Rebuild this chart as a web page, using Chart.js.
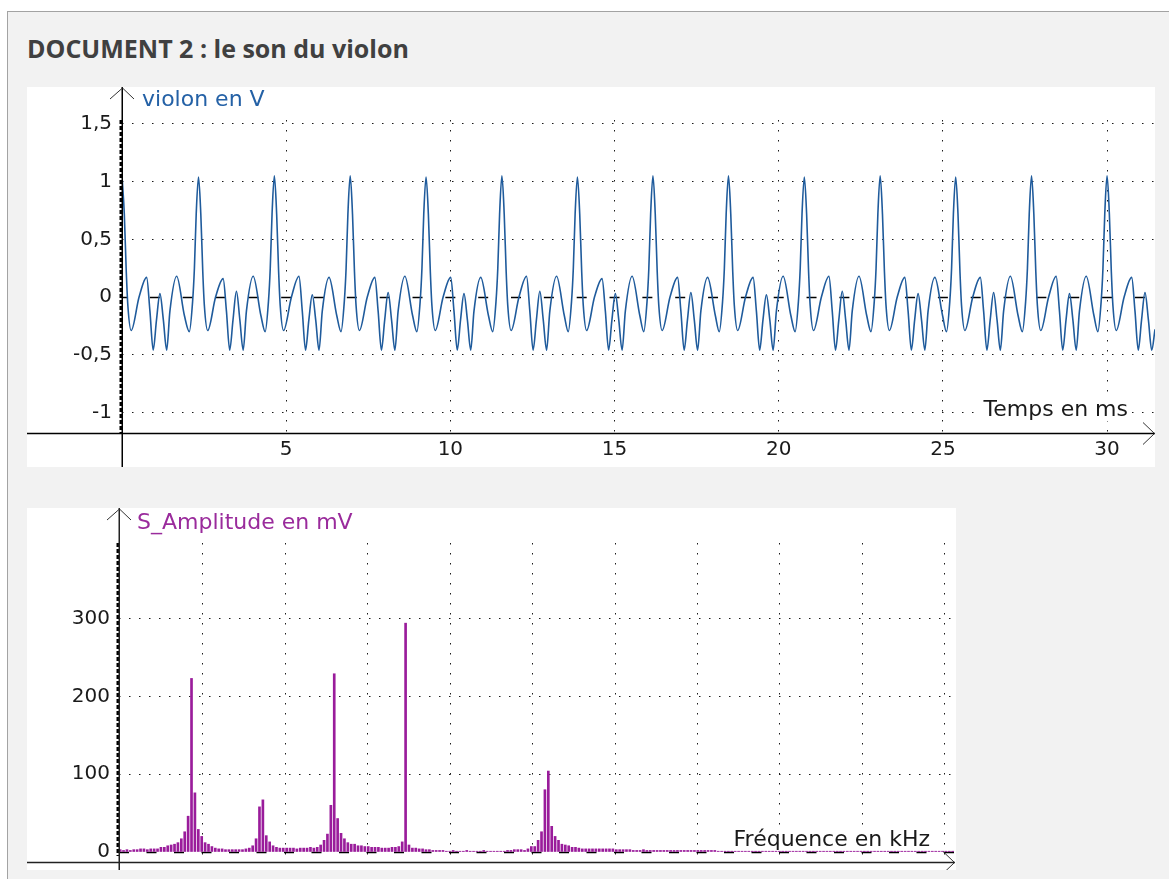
<!DOCTYPE html>
<html>
<head>
<meta charset="utf-8">
<script src="https://cdn.jsdelivr.net/npm/chart.js@4.4.1/dist/chart.umd.min.js"></script>
<style>
html,body{margin:0;padding:0;background:#fff;width:1169px;height:879px;overflow:hidden;}
#frame{position:absolute;left:7px;top:11px;width:1200px;height:900px;border:1px solid #a3a3a3;background:#f2f2f2;}
#title{position:absolute;left:27px;top:33px;font:bold 25px "Open Sans";line-height:30px;color:#404040;white-space:nowrap;}
.panel{position:absolute;background:#fff;}
#p1{left:27px;top:87px;width:1128px;height:380px;}
#p2{left:27px;top:508px;width:929px;height:362px;}
canvas{display:block;}
</style>
</head>
<body>
<div id="frame"></div>
<div id="title">DOCUMENT 2 : le son du violon</div>
<div class="panel" id="p1"><canvas id="c1" width="1128" height="380"></canvas></div>
<div class="panel" id="p2"><canvas id="c2" width="929" height="362"></canvas></div>
<script>
// ---------- Document 2 : violin signal (time domain) ----------
const timeMs = [
  0, 0.07, 0.13, 0.18, 0.28, 0.52, 0.75, 0.85, 0.95, 1.05, 1.155, 1.26, 1.36, 1.46, 1.665, 1.90, 2.05, 2.15, 2.205, 2.26,
  2.33, 2.40, 2.46, 2.51, 2.61, 2.85, 3.08, 3.18, 3.28, 3.38, 3.485, 3.59, 3.69, 3.79, 3.995, 4.23, 4.36, 4.46, 4.515, 4.57,
  4.64, 4.71, 4.77, 4.82, 4.92, 5.16, 5.39, 5.49, 5.59, 5.69, 5.795, 5.90, 6.00, 6.10, 6.305, 6.54, 6.67, 6.77, 6.825, 6.88,
  6.95, 7.02, 7.08, 7.13, 7.23, 7.47, 7.70, 7.80, 7.90, 8.00, 8.105, 8.21, 8.31, 8.41, 8.615, 8.85, 8.98, 9.08, 9.135, 9.19,
  9.26, 9.33, 9.39, 9.44, 9.54, 9.78, 10.01, 10.11, 10.21, 10.31, 10.415, 10.52, 10.62, 10.72, 10.925, 11.16, 11.29, 11.39, 11.445, 11.50,
  11.57, 11.64, 11.70, 11.75, 11.85, 12.09, 12.32, 12.42, 12.52, 12.62, 12.725, 12.83, 12.93, 13.03, 13.235, 13.47, 13.59, 13.69, 13.745, 13.80,
  13.87, 13.94, 14.00, 14.05, 14.15, 14.39, 14.62, 14.72, 14.82, 14.92, 15.025, 15.13, 15.23, 15.33, 15.535, 15.77, 15.89, 15.99, 16.045, 16.10,
  16.17, 16.24, 16.30, 16.35, 16.45, 16.69, 16.92, 17.02, 17.12, 17.22, 17.325, 17.43, 17.53, 17.63, 17.835, 18.07, 18.19, 18.29, 18.345, 18.40,
  18.47, 18.54, 18.60, 18.65, 18.75, 18.99, 19.22, 19.32, 19.42, 19.52, 19.625, 19.73, 19.83, 19.93, 20.135, 20.37, 20.50, 20.60, 20.655, 20.71,
  20.78, 20.85, 20.91, 20.96, 21.06, 21.30, 21.53, 21.63, 21.73, 21.83, 21.935, 22.04, 22.14, 22.24, 22.445, 22.68, 22.81, 22.91, 22.965, 23.02,
  23.09, 23.16, 23.22, 23.27, 23.37, 23.61, 23.84, 23.94, 24.04, 24.14, 24.245, 24.35, 24.45, 24.55, 24.755, 24.99, 25.11, 25.21, 25.265, 25.32,
  25.39, 25.46, 25.52, 25.57, 25.67, 25.91, 26.14, 26.24, 26.34, 26.44, 26.545, 26.65, 26.75, 26.85, 27.055, 27.29, 27.42, 27.52, 27.575, 27.63,
  27.70, 27.77, 27.83, 27.88, 27.98, 28.22, 28.45, 28.55, 28.65, 28.75, 28.855, 28.96, 29.06, 29.16, 29.365, 29.60, 29.72, 29.82, 29.875, 29.93,
  30.00, 30.07, 30.13, 30.18, 30.28, 30.52, 30.75, 30.85, 30.95, 31.05, 31.155, 31.26, 31.36, 31.46
];
const violonV = [
  1.05, 0.72, 0.22, -0.08, -0.29, 0.00, 0.17, -0.12, -0.46, -0.20, 0.03, -0.20, -0.46, -0.12, 0.18, -0.16, -0.30, -0.04, 0.25, 0.72,
  1.04, 0.72, 0.22, -0.08, -0.29, 0.00, 0.16, -0.12, -0.46, -0.20, 0.05, -0.20, -0.46, -0.12, 0.18, -0.16, -0.30, -0.04, 0.25, 0.72,
  1.05, 0.72, 0.22, -0.08, -0.29, 0.00, 0.18, -0.12, -0.46, -0.20, 0.02, -0.20, -0.46, -0.12, 0.17, -0.16, -0.30, -0.04, 0.25, 0.72,
  1.05, 0.72, 0.22, -0.08, -0.29, 0.00, 0.17, -0.12, -0.46, -0.20, 0.04, -0.20, -0.46, -0.12, 0.18, -0.16, -0.30, -0.04, 0.25, 0.72,
  1.04, 0.72, 0.22, -0.08, -0.29, 0.00, 0.17, -0.12, -0.46, -0.20, 0.03, -0.20, -0.46, -0.12, 0.17, -0.16, -0.30, -0.04, 0.25, 0.72,
  1.05, 0.72, 0.22, -0.08, -0.29, 0.00, 0.18, -0.12, -0.46, -0.20, 0.05, -0.20, -0.46, -0.12, 0.18, -0.16, -0.30, -0.04, 0.25, 0.72,
  1.04, 0.72, 0.22, -0.08, -0.29, 0.00, 0.16, -0.12, -0.46, -0.20, 0.03, -0.20, -0.46, -0.12, 0.18, -0.16, -0.30, -0.04, 0.25, 0.72,
  1.05, 0.72, 0.22, -0.08, -0.29, 0.00, 0.17, -0.12, -0.46, -0.20, 0.04, -0.20, -0.46, -0.12, 0.17, -0.16, -0.30, -0.04, 0.25, 0.72,
  1.05, 0.72, 0.22, -0.08, -0.29, 0.00, 0.17, -0.12, -0.46, -0.20, 0.02, -0.20, -0.46, -0.12, 0.18, -0.16, -0.30, -0.04, 0.25, 0.72,
  1.04, 0.72, 0.22, -0.08, -0.29, 0.00, 0.18, -0.12, -0.46, -0.20, 0.05, -0.20, -0.46, -0.12, 0.18, -0.16, -0.30, -0.04, 0.25, 0.72,
  1.05, 0.72, 0.22, -0.08, -0.29, 0.00, 0.17, -0.12, -0.46, -0.20, 0.03, -0.20, -0.46, -0.12, 0.17, -0.16, -0.30, -0.04, 0.25, 0.72,
  1.04, 0.72, 0.22, -0.08, -0.29, 0.00, 0.17, -0.12, -0.46, -0.20, 0.04, -0.20, -0.46, -0.12, 0.18, -0.16, -0.30, -0.04, 0.25, 0.72,
  1.05, 0.72, 0.22, -0.08, -0.29, 0.00, 0.18, -0.12, -0.46, -0.20, 0.03, -0.20, -0.46, -0.12, 0.18, -0.16, -0.30, -0.04, 0.25, 0.72,
  1.05, 0.72, 0.22, -0.08, -0.29, 0.00, 0.17, -0.12, -0.46, -0.20, 0.04, -0.20, -0.46, -0.28
];
const timeTicks = [5, 10, 15, 20, 25, 30];
const voltTicks = [-1, -0.5, 0, 0.5, 1, 1.5];

// ---------- Spectrum ----------
const freqStepKHz = 0.0206;           // FFT bin width
const amplitudeMv = [
  3, 2, 3, 2, 3, 3, 4, 4, 3, 4,
  4, 4, 6, 6, 8, 9, 10, 12, 17, 26,
  46, 223, 76, 29, 20, 12, 10, 7, 5, 4,
  4, 3, 3, 3, 3, 3, 3, 4, 5, 8,
  17, 58, 67, 21, 13, 8, 6, 5, 5, 5,
  5, 5, 4, 5, 5, 5, 6, 5, 6, 9,
  15, 23, 60, 229, 43, 24, 17, 12, 10, 10,
  8, 8, 7, 7, 6, 6, 6, 5, 5, 5,
  6, 6, 7, 13, 294, 9, 5, 5, 4, 4,
  3, 3, 2, 2, 2, 2, 1, 1, 2, 1,
  1, 1, 2, 1, 1, 1, 1, 2, 1, 1,
  1, 1, 1, 1, 2, 2, 3, 3, 3, 2,
  4, 7, 7, 15, 26, 80, 104, 33, 20, 15,
  10, 9, 8, 6, 6, 5, 4, 4, 4, 4,
  4, 4, 4, 4, 4, 4, 3, 3, 3, 3,
  3, 2, 2, 2, 3, 2, 2, 2, 2, 2,
  2, 2, 2, 2, 2, 2, 2, 2, 2, 2,
  2, 2, 2, 2, 2, 2, 1, 1, 1, 1,
  1, 1, 1, 1, 1, 1, 1, 1, 1, 1,
  1, 1, 1, 1, 1, 1, 1, 1, 1, 1,
  1, 1, 1, 1, 1, 1, 1, 1, 1, 1,
  1, 1, 1, 1, 1, 1, 1, 1, 1, 1,
  1, 1, 1, 1, 1, 1, 1, 1, 1, 1,
  1, 1, 1, 1, 1, 1, 1, 1, 1, 1,
  1, 1, 1, 1, 1, 1
];
const freqGridKHz = [0.5, 1, 1.5, 2, 2.5, 3, 3.5, 4, 4.5, 5];
const ampTicks = [0, 100, 200, 300];

// ---------- decoration plugin (axes, arrows, titles) ----------
const panelDecor = {
  id: 'panelDecor',
  beforeDatasetsDraw(chart, _a, o) {
    const {ctx, chartArea: ca} = chart;
    const xs = chart.scales.x, ys = chart.scales.y;
    const y0 = Math.round(ys.getPixelForValue(0)) + 0.5;
    ctx.save();
    ctx.strokeStyle = '#000';
    ctx.lineWidth = 1.5;
    if (o.zeroMarkStep) {
      for (let v = Math.ceil(xs.min); v <= xs.max; v += o.zeroMarkStep) {
        const px = xs.getPixelForValue(v);
        ctx.beginPath();
        ctx.moveTo(Math.max(ca.left, px - o.zeroMarkLen / 2), y0);
        ctx.lineTo(Math.min(ca.right, px + o.zeroMarkLen / 2), y0);
        ctx.stroke();
      }
    } else if (o.zeroDash) {
      ctx.setLineDash(o.zeroDash);
      ctx.beginPath(); ctx.moveTo(ca.left, y0); ctx.lineTo(ca.right, y0); ctx.stroke();
      ctx.setLineDash([]);
    }
    // x axis title with white box
    ctx.font = '22px "DejaVu Sans"';
    ctx.textBaseline = 'middle';
    const w = ctx.measureText(o.xTitle).width;
    const tx = ca.right - o.xTitleDx, ty = ca.bottom - o.xTitleDy;
    ctx.fillStyle = '#fff';
    ctx.fillRect(tx - w - 3, ty - 12, w + 6, 23);
    ctx.fillStyle = '#1a1a1a';
    ctx.textAlign = 'right';
    ctx.fillText(o.xTitle, tx, ty);
    ctx.restore();
  },
  afterDatasetsDraw(chart, _a, o) {
    const {ctx, chartArea: ca, height} = chart;
    const ys = chart.scales.y;
    const ax = Math.round(ca.left), ay = Math.round(ca.bottom) + 0.5;
    ctx.save();
    // thick dashed band along the vertical axis
    ctx.strokeStyle = '#000';
    ctx.lineWidth = 3;
    ctx.setLineDash([4, 2]);
    const dashEnd = o.dashToZero ? ys.getPixelForValue(0) + 4 : ca.bottom;
    ctx.beginPath(); ctx.moveTo(ax - 1, ca.top); ctx.lineTo(ax - 1, dashEnd); ctx.stroke();
    ctx.setLineDash([]);
    // axes lines
    ctx.strokeStyle = o.axisColor;
    ctx.lineWidth = 1.5;
    ctx.beginPath(); ctx.moveTo(ax + 0.25, 0); ctx.lineTo(ax + 0.25, height); ctx.stroke();
    ctx.beginPath(); ctx.moveTo(0, ay); ctx.lineTo(ca.right, ay); ctx.stroke();
    // arrow heads
    ctx.lineWidth = 1;
    ctx.strokeStyle = '#333';
    ctx.beginPath(); ctx.moveTo(ax - 12, 12); ctx.lineTo(ax + 0.5, 1); ctx.lineTo(ax + 12, 12); ctx.stroke();
    ctx.beginPath(); ctx.moveTo(ca.right - 12, ay - 11); ctx.lineTo(ca.right - 0.5, ay); ctx.lineTo(ca.right - 12, ay + 11); ctx.stroke();
    // y axis title
    ctx.font = '22px "DejaVu Sans"';
    ctx.textBaseline = 'middle';
    ctx.textAlign = 'left';
    ctx.fillStyle = o.yTitleColor;
    ctx.fillText(o.yTitle, ax + o.yTitleDx, o.yTitleY);
    ctx.restore();
  }
};

const gridColor = c => (c.tick && c.tick.value === 0) ? 'rgba(0,0,0,0)' : '#1a1a1a';
const frNum = v => String(v).replace('.', ',');
const tickFont = {family: 'DejaVu Sans', size: 20};
const noLabelPad = s => { s.paddingTop = 0; s.paddingBottom = 0; };

// ---------- chart 1 : signal ----------
new Chart(document.getElementById('c1'), {
  type: 'line',
  data: {
    datasets: [{
      data: timeMs.map((t, i) => ({x: t, y: violonV[i]})),
      borderColor: '#1f5b9c',
      borderWidth: 1.6,
      pointRadius: 0,
      cubicInterpolationMode: 'monotone',
      fill: false
    }]
  },
  options: {
    responsive: false, animation: false, devicePixelRatio: 1,
    layout: {padding: {top: 33, left: 0, right: 0, bottom: 0}},
    plugins: {
      legend: {display: false}, tooltip: {enabled: false},
      panelDecor: {
        zeroMarkStep: 1, zeroMarkLen: 10,
        xTitle: 'Temps en ms', xTitleDx: 27, xTitleDy: 23,
        yTitle: 'violon en V', yTitleDx: 20, yTitleY: 13, yTitleColor: '#2461a6',
        axisColor: '#000', dashToZero: false
      }
    },
    scales: {
      x: {
        type: 'linear', min: 0, max: 31.46,
        afterBuildTicks: s => { s.ticks = timeTicks.map(v => ({value: v})); },
        afterFit: s => { s.height = 34; },
        grid: {color: gridColor, lineWidth: 1, drawTicks: false},
        border: {display: false, dash: [1.5, 8.5]},
        ticks: {padding: 5, font: tickFont, color: '#1a1a1a', maxRotation: 0, autoSkip: false, callback: frNum}
      },
      y: {
        type: 'linear', min: -1.178, max: 1.534,
        afterBuildTicks: s => { s.ticks = voltTicks.map(v => ({value: v})); },
        afterFit: s => { s.width = 95; noLabelPad(s); },
        grid: {color: gridColor, lineWidth: 1, drawTicks: false},
        border: {display: false, dash: [1.5, 8.5]},
        ticks: {padding: 10, font: tickFont, color: '#1a1a1a', autoSkip: false, callback: frNum}
      }
    }
  },
  plugins: [panelDecor]
});

// ---------- chart 2 : spectrum ----------
new Chart(document.getElementById('c2'), {
  type: 'bar',
  data: {
    datasets: [{
      data: amplitudeMv.map((a, i) => ({x: i * freqStepKHz, y: a})),
      backgroundColor: '#9a1c9b',
      borderWidth: 0,
      barThickness: 2
    }]
  },
  options: {
    responsive: false, animation: false, devicePixelRatio: 1,
    layout: {padding: {top: 35, left: 0, right: 1, bottom: 0}},
    plugins: {
      legend: {display: false}, tooltip: {enabled: false},
      panelDecor: {
        zeroDash: [10, 17.5],
        xTitle: 'Fréquence en kHz', xTitleDx: 25, xTitleDy: 22,
        yTitle: 'S_Amplitude en mV', yTitleDx: 18, yTitleY: 15, yTitleColor: '#9a2b9c',
        axisColor: '#222', dashToZero: true
      }
    },
    scales: {
      x: {
        type: 'linear', min: -0.007, max: 5.061, offset: false,
        afterBuildTicks: s => { s.ticks = freqGridKHz.map(v => ({value: v})); },
        afterFit: s => { s.height = 8; },
        grid: {color: gridColor, lineWidth: 1, drawTicks: false, offset: false},
        border: {display: false, dash: [1.5, 8.5]},
        ticks: {display: false}
      },
      y: {
        type: 'linear', min: -12.85, max: 397,
        afterBuildTicks: s => { s.ticks = ampTicks.map(v => ({value: v})); },
        afterFit: s => { s.width = 92; noLabelPad(s); },
        grid: {color: gridColor, lineWidth: 1, drawTicks: false},
        border: {display: false, dash: [1.5, 8.5]},
        ticks: {padding: 9, font: tickFont, color: '#1a1a1a', autoSkip: false}
      }
    }
  },
  plugins: [panelDecor]
});
</script>
</body>
</html>
